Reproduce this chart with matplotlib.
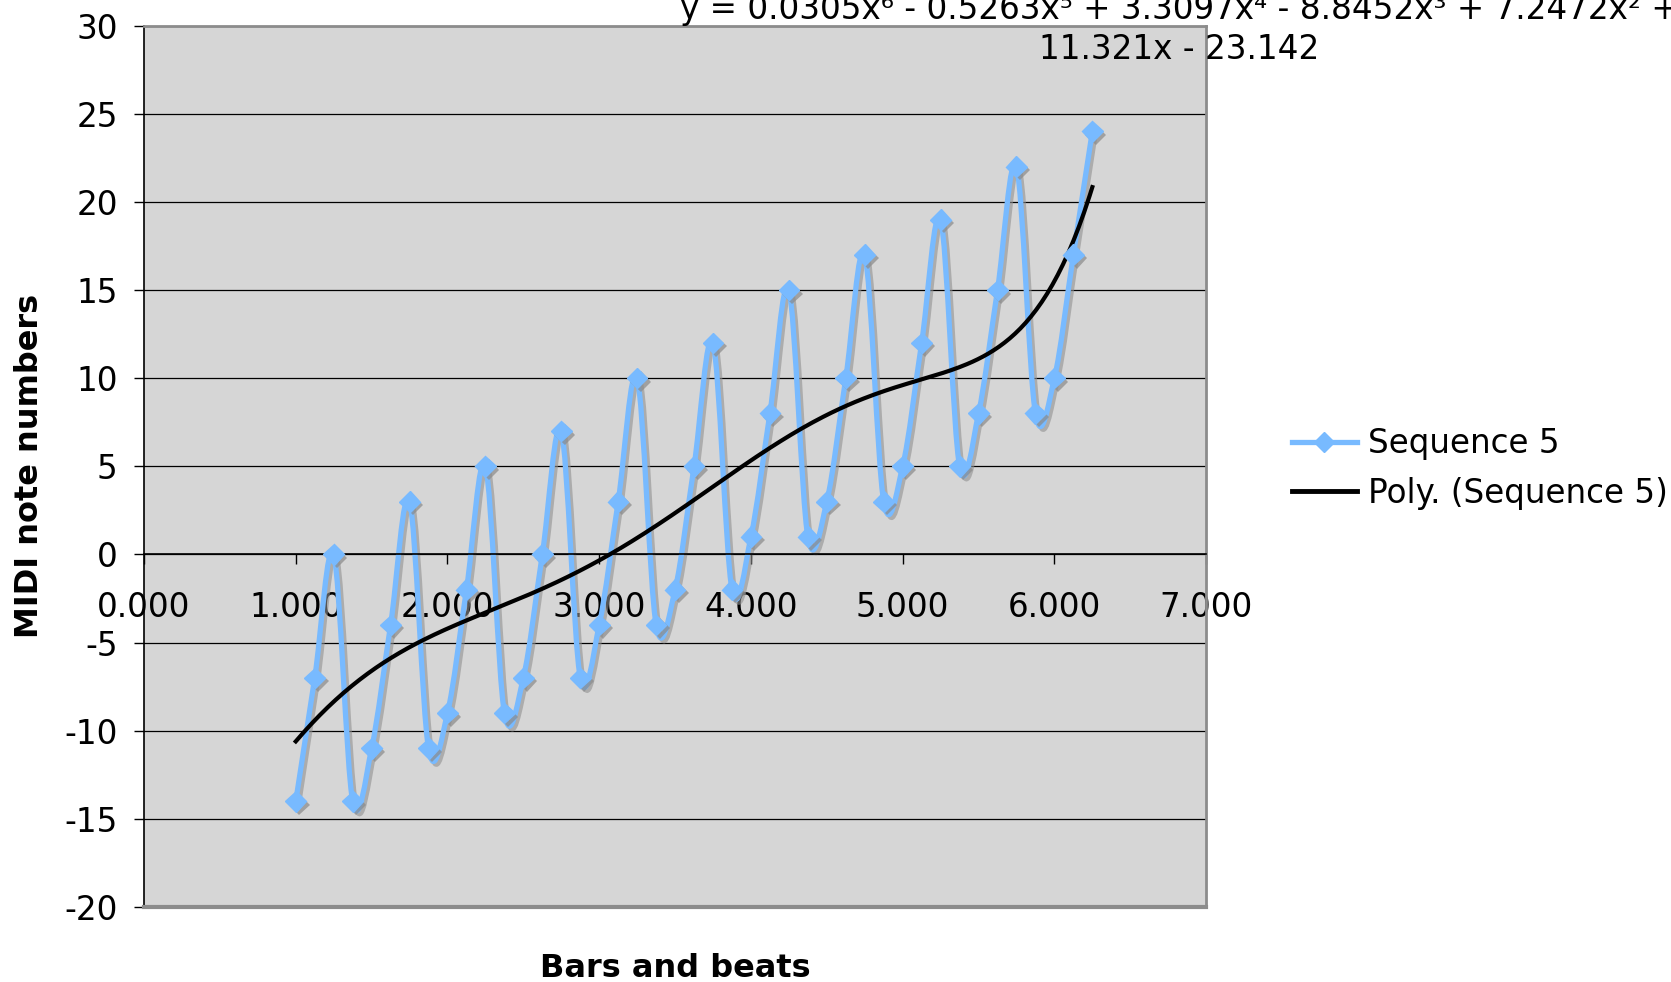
import numpy as np
import matplotlib
matplotlib.use('Agg')
import matplotlib.pyplot as plt
import matplotlib.patheffects as pe
from matplotlib.path import Path
from matplotlib.patches import PathPatch
from matplotlib.lines import Line2D

# Sequence 5: position in bars/beats and MIDI note
beats = [1.000, 1.125, 1.250, 1.375, 1.500, 1.625, 1.750, 1.875,
         2.000, 2.125, 2.250, 2.375, 2.500, 2.625, 2.750, 2.875,
         3.000, 3.125, 3.250, 3.375, 3.500, 3.625, 3.750, 3.875,
         4.000, 4.125, 4.250, 4.375, 4.500, 4.625, 4.750, 4.875,
         5.000, 5.125, 5.250, 5.375, 5.500, 5.625, 5.750, 5.875,
         6.000, 6.125, 6.250]
notes = [-14, -7, 0, -14, -11, -4, 3, -11,
         -9, -2, 5, -9, -7, 0, 7, -7,
         -4, 3, 10, -4, -2, 5, 12, -2,
         1, 8, 15, 1, 3, 10, 17, 3,
         5, 12, 19, 5, 8, 15, 22, 8,
         10, 17, 24]

x_ticks = [0, 1, 2, 3, 4, 5, 6, 7]
y_ticks = [-20, -15, -10, -5, 0, 5, 10, 15, 20, 25, 30]
series_label = 'Sequence 5'
trend_label = 'Poly. (Sequence 5)'
eq_line1 = 'y = 0.0305x⁶ - 0.5263x⁵ + 3.3097x⁴ - 8.8452x³ + 7.2472x² +'
eq_line2 = '11.321x - 23.142'

blue = '#78baff'
border = '#8c8c8c'
fs = 23.5

plt.rcParams['axes.unicode_minus'] = False


def smooth_path(xs, ys):
    # excel-style smoothed line (cubic bezier through every point)
    pts = np.column_stack([xs, ys]).astype(float)
    n = len(pts)
    verts = [pts[0]]
    codes = [Path.MOVETO]
    for i in range(n - 1):
        p0 = pts[max(i - 1, 0)]
        p1 = pts[i]
        p2 = pts[i + 1]
        p3 = pts[min(i + 2, n - 1)]
        verts += [p1 + (p2 - p0) / 6, p2 - (p3 - p1) / 6, p2]
        codes += [Path.CURVE4] * 3
    return Path(verts, codes)


fig = plt.figure(figsize=(16.71, 9.82), dpi=100)
ax = fig.add_axes([0.0862, 0.0764, 0.6356, 0.8975])
ax.set_facecolor('#d6d6d6')

line = PathPatch(smooth_path(beats, notes), fill=False, edgecolor=blue,
                 lw=3.8, joinstyle='round', zorder=2,
                 path_effects=[pe.SimpleLineShadow(offset=(2, -2),
                                                   shadow_color='#909090',
                                                   alpha=0.6),
                               pe.Normal()])
ax.add_patch(line)

coefs = np.polyfit(beats, notes, 6)
xs = np.linspace(beats[0], beats[-1], 300)
ax.plot(xs, np.polyval(coefs, xs), color='black', lw=3, zorder=3)

ax.plot(beats, notes, ls='none', marker='D', ms=10.5, color=blue,
        mec=blue, zorder=4,
        path_effects=[pe.SimplePatchShadow(offset=(2.5, -2.5),
                                           shadow_rgbFace='#8a8a8a',
                                           alpha=0.7),
                      pe.Normal()])

ax.set_xlim(0, 7)
ax.set_ylim(-20, 30)
ax.set_xticks(x_ticks)
ax.set_xticklabels([f'{t:.3f}' for t in x_ticks])
ax.set_yticks(y_ticks)
ax.set_axisbelow(True)
ax.yaxis.grid(True, color='black', lw=0.9)

ax.spines['bottom'].set_position(('data', 0))
ax.spines['bottom'].set_color('black')
ax.spines['bottom'].set_linewidth(1.2)
ax.spines['left'].set_color('black')
ax.spines['left'].set_linewidth(1.2)
for side in ['top', 'right']:
    ax.spines[side].set_color(border)
    ax.spines[side].set_linewidth(2)
ax.axhline(-20, color=border, lw=3, clip_on=False, zorder=5)

ax.tick_params(axis='x', direction='out', length=7, width=1,
               labelsize=fs, pad=19)
ax.tick_params(axis='y', direction='out', length=7, width=1,
               labelsize=fs, pad=12)

ax.set_xlabel('Bars and beats', fontsize=23, fontweight='bold')
ax.xaxis.set_label_coords(0.5, -0.052)
ax.set_ylabel('MIDI note numbers', fontsize=23, fontweight='bold')
ax.yaxis.set_label_coords(-0.093, 0.5)

fig.text(0.7056, 0.9807, eq_line1, ha='center', va='baseline', fontsize=fs)
fig.text(0.7056, 0.9400, eq_line2, ha='center', va='baseline', fontsize=fs)

handles = [Line2D([], [], color=blue, lw=3.8, marker='D', ms=10.5, mec=blue),
           Line2D([], [], color='black', lw=3.5)]
fig.legend(handles, [series_label, trend_label], loc='center left',
           bbox_to_anchor=(0.773, 0.523), frameon=False, fontsize=fs,
           handlelength=2.0, handletextpad=0.33, borderpad=0,
           borderaxespad=0, labelspacing=0.52)

fig.savefig('out.png', dpi=100)
